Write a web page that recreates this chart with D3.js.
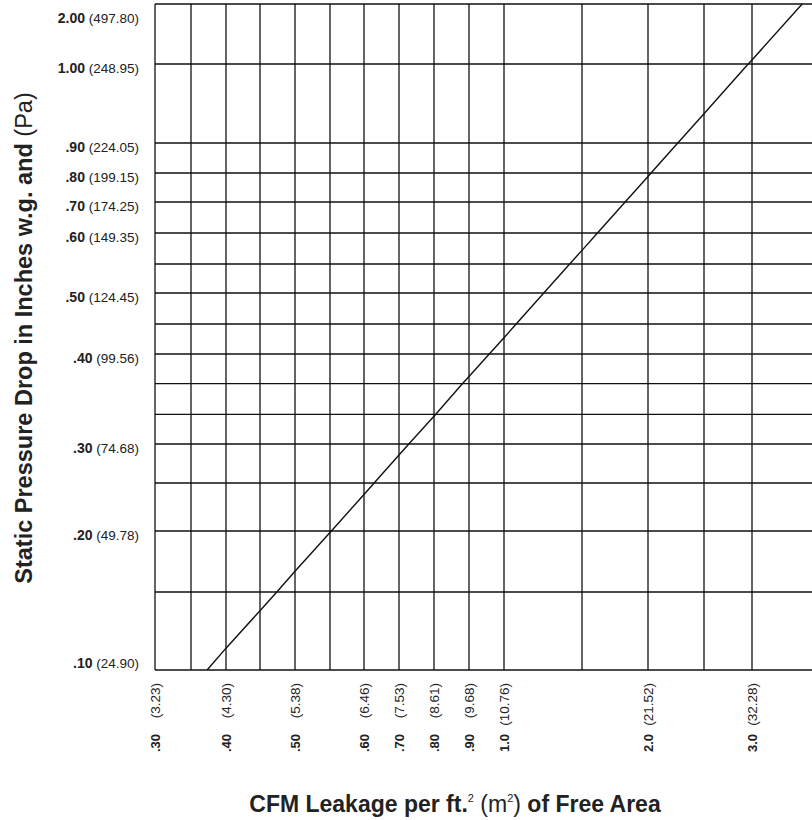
<!DOCTYPE html>
<html>
<head>
<meta charset="utf-8">
<script src="https://cdn.jsdelivr.net/npm/d3@7"></script>
<style>
  html, body { margin: 0; padding: 0; background: #fff; }
  svg { display: block; font-family: "Liberation Sans", Arial, Helvetica, sans-serif; }
</style>
</head>
<body>
<svg id="chart" width="812" height="820"></svg>
<script>
// ---------------- data ----------------
// Curve: CFM leakage per ft² vs static pressure drop (in. w.g.)
const cfmValues      = [0.373, 0.40, 0.45, 0.474, 0.50, 0.552, 0.60, 0.629, 0.70, 0.728, 0.805, 0.881, 0.90, 0.958, 1.00, 1.078, 1.255, 1.421, 1.50, 1.617, 1.827, 2.00, 2.027, 2.266, 2.50, 2.96, 3.00, 3.66];
const pressureValues = [0.100, 0.114, 0.138, 0.150, 0.167, 0.200, 0.238, 0.250, 0.286, 0.300, 0.333, 0.367, 0.375, 0.400, 0.427, 0.450, 0.500, 0.550, 0.572, 0.600, 0.700, 0.788, 0.800, 0.900, 0.937, 1.00, 1.067, 2.00];

// Grid lines
const xGridValues = [0.30, 0.35, 0.40, 0.45, 0.50, 0.55, 0.60, 0.70, 0.80, 0.90, 1.0, 1.5, 2.0, 2.5, 3.0];
const yGridValues = [0.10, 0.15, 0.20, 0.25, 0.30, 0.333, 0.367, 0.40, 0.45, 0.50, 0.55, 0.60, 0.70, 0.80, 0.90, 1.00, 2.00];

// Tick labels
const xTickValues  = [0.3, 0.4, 0.5, 0.6, 0.7, 0.8, 0.9, 1.0, 2.0, 3.0];
const xTickLabels  = [".30", ".40", ".50", ".60", ".70", ".80", ".90", "1.0", "2.0", "3.0"];
const xTickMetric  = ["(3.23)", "(4.30)", "(5.38)", "(6.46)", "(7.53)", "(8.61)", "(9.68)", "(10.76)", "(21.52)", "(32.28)"];

const yTickValues  = [2.00, 1.00, 0.90, 0.80, 0.70, 0.60, 0.50, 0.40, 0.30, 0.20, 0.10];
const yTickLabels  = ["2.00", "1.00", ".90", ".80", ".70", ".60", ".50", ".40", ".30", ".20", ".10"];
const yTickMetric  = ["(497.80)", "(248.95)", "(224.05)", "(199.15)", "(174.25)", "(149.35)", "(124.45)", "(99.56)", "(74.68)", "(49.78)", "(24.90)"];

// Scale breakpoints of the (non-uniform) printed grid
const xBreaks = [0.30, 0.35, 0.40, 0.45, 0.50, 0.55, 0.60, 0.70, 0.80, 0.90, 1.0, 1.5, 2.0, 2.5, 3.0, 4.0];
const yBreaks = [0.10, 0.15, 0.20, 0.25, 0.30, 0.40, 0.45, 0.50, 0.55, 0.60, 0.70, 0.80, 0.90, 1.00, 2.00];

// ---------------- layout ----------------
const plotLeft = 155, plotTop = 4, plotRight = 812, plotBottom = 670;
// pixel positions of breakpoints (scale configuration)
const xBreakPx = [155, 191, 226, 260, 295, 330, 364, 399, 434, 469, 504, 582, 648, 704, 752, 828];
const yBreakPx = [670, 592, 531, 483, 444, 354, 324, 293, 264, 233, 202, 173, 143, 64, 4];

const x = d3.scaleLinear().domain(xBreaks).range(xBreakPx);
const y = d3.scaleLinear().domain(yBreaks).range(yBreakPx);

const svg = d3.select("#chart");
const ink = "#111";

// Grid
const g = svg.append("g");
g.selectAll("line.v").data(xGridValues).join("line")
  .attr("x1", d => x(d)).attr("x2", d => x(d))
  .attr("y1", plotTop).attr("y2", plotBottom)
  .attr("stroke", ink).attr("stroke-width", 1.3);
g.selectAll("line.h").data(yGridValues).join("line")
  .attr("x1", plotLeft).attr("x2", plotRight + 2)
  .attr("y1", d => y(d)).attr("y2", d => y(d))
  .attr("stroke", ink).attr("stroke-width", 1.3);

// Curve
const pts = cfmValues.map((c, i) => [c, pressureValues[i]]);
svg.append("path")
  .datum(pts)
  .attr("d", d3.line().x(d => x(d[0])).y(d => y(d[1])))
  .attr("fill", "none").attr("stroke", ink).attr("stroke-width", 1.4);

// Y tick labels
const yl = svg.append("g");
yTickValues.forEach((v, i) => {
  const py = Math.min(Math.max(y(v) + 4, plotTop + 14), plotBottom - 7);
  const t = yl.append("text")
    .attr("x", 139).attr("y", py)
    .attr("text-anchor", "end")
    .attr("dominant-baseline", "central")
    .attr("fill", "#222");
  t.append("tspan").attr("font-weight", "bold").attr("font-size", 14).text(yTickLabels[i]);
  t.append("tspan").attr("font-size", 13.5).text(" " + yTickMetric[i]);
});

// X tick labels (rotated)
const xl = svg.append("g");
xTickValues.forEach((v, i) => {
  xl.append("text")
    .attr("transform", `translate(${x(v)},752) rotate(-90)`)
    .attr("dy", "0.35em")
    .attr("text-anchor", "start")
    .attr("font-weight", "bold").attr("font-size", 13)
    .attr("fill", "#222")
    .text(xTickLabels[i]);
  xl.append("text")
    .attr("transform", `translate(${x(v)},683) rotate(-90)`)
    .attr("dy", "0.35em")
    .attr("text-anchor", "end")
    .attr("font-size", 13.5)
    .attr("fill", "#222")
    .text(xTickMetric[i]);
});

// X axis title
const xt = svg.append("text")
  .attr("x", 455).attr("y", 812)
  .attr("text-anchor", "middle")
  .attr("font-size", 23).attr("fill", "#222");
xt.append("tspan").attr("font-weight", "bold").text("CFM Leakage per ft.");
xt.append("tspan").attr("font-size", 11).attr("dy", -10).text("2");
xt.append("tspan").attr("dy", 10).text(" (m");
xt.append("tspan").attr("font-size", 11).attr("dy", -10).text("2");
xt.append("tspan").attr("dy", 10).text(")");
xt.append("tspan").attr("font-weight", "bold").text(" of Free Area");

// Y axis title
const yt = svg.append("text")
  .attr("transform", "translate(32,338) rotate(-90)")
  .attr("text-anchor", "middle")
  .attr("font-size", 23.5).attr("fill", "#222");
yt.append("tspan").attr("font-weight", "bold").text("Static Pressure Drop in Inches w.g. and ");
yt.append("tspan").text("(Pa)");
</script>
</body>
</html>
